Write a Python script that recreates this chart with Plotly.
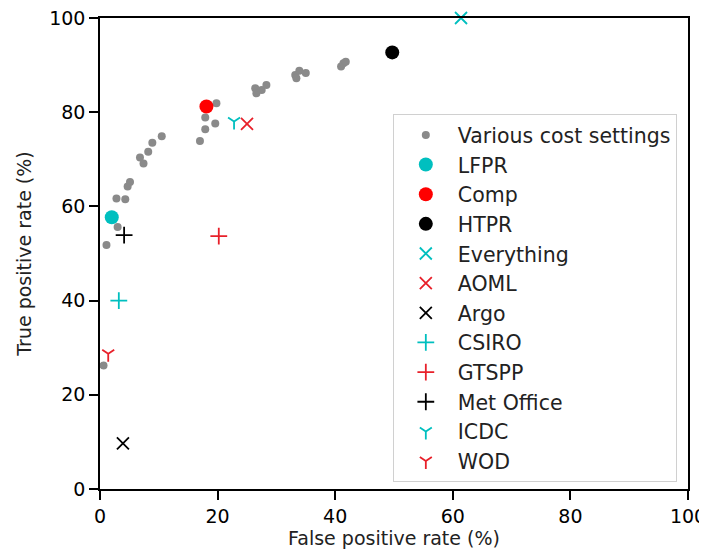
import plotly.graph_objects as go

# Various cost settings (grey points)
gray_x = [0.6, 1.1, 3.0, 2.8, 4.3, 4.7, 5.1, 6.8, 7.4, 8.2, 8.9, 10.5, 17.0, 17.9, 17.9, 19.6,
          19.8, 26.4, 26.6, 27.5, 28.3, 33.2, 33.4, 33.9, 35.0, 41.0, 41.4, 41.8]
gray_y = [26.2, 51.8, 55.6, 61.7, 61.5, 64.2, 65.2, 70.4, 69.1, 71.6, 73.5, 74.9, 73.9, 76.4, 78.9, 77.6,
          81.9, 85.1, 84.0, 84.7, 85.8, 87.9, 87.2, 88.8, 88.3, 89.7, 90.4, 90.7]

# Named configurations: (name, fpr, tpr)
names = ["LFPR", "Comp", "HTPR", "Everything", "AOML", "Argo", "CSIRO", "GTSPP", "Met Office", "ICDC", "WOD"]
fpr = [2.0, 18.1, 49.7, 61.4, 25.0, 3.9, 3.2, 20.2, 4.1, 22.8, 1.4]
tpr = [57.7, 81.2, 92.7, 100.0, 77.5, 9.7, 40.0, 53.7, 53.9, 78.0, 28.7]
colors = ["#00BFBF", "#FF0000", "#000000", "#00BFBF", "#E8202A", "#000000", "#00BFBF", "#E8202A", "#000000", "#00BFBF", "#E8202A"]
symbols = ["circle", "circle", "circle", "x-thin", "x-thin", "x-thin", "cross-thin", "cross-thin", "cross-thin", "y-down", "y-down"]

x_ticks = [0, 20, 40, 60, 80, 100]
y_ticks = [0, 20, 40, 60, 80, 100]

fig = go.Figure()
fig.add_trace(go.Scatter(x=gray_x, y=gray_y, mode="markers", name="Various cost settings",
                         marker=dict(color="#8a8a8a", size=8, line=dict(width=0))))
for n, xv, yv, c, s in zip(names, fpr, tpr, colors, symbols):
    if s == "circle":
        mk = dict(color=c, size=14, symbol=s, line=dict(width=0))
    elif s == "y-down":
        mk = dict(color=c, size=10, symbol=s, line=dict(color=c, width=1.8))
    else:
        mk = dict(color=c, size=12, symbol=s, line=dict(color=c, width=1.8))
    fig.add_trace(go.Scatter(x=[xv], y=[yv], mode="markers", name=n, marker=mk, cliponaxis=False))

axis_common = dict(showgrid=False, zeroline=False, showline=True, linecolor="black", linewidth=1.5,
                   mirror=True, ticks="outside", ticklen=9, tickwidth=1.5, tickcolor="black",
                   automargin=False, ticklabeloverflow="allow",
                   tickfont=dict(size=19, color="black", family="DejaVu Sans"))
fig.update_xaxes(range=[0, 100], tickvals=x_ticks, ticktext=[str(v) for v in x_ticks],
                 title=dict(text="False positive rate (%)", font=dict(size=19, color="#222", family="DejaVu Sans"), standoff=6),
                 **axis_common)
fig.update_yaxes(range=[0, 100], tickvals=y_ticks, ticktext=[str(v) for v in y_ticks],
                 title=dict(text="True positive rate (%)", font=dict(size=19, color="#222", family="DejaVu Sans"), standoff=13),
                 **axis_common)

# page body adds an 8px offset, compensated in the margins
fig.update_layout(
    width=707, height=551,
    margin=dict(l=92, r=27, t=10, b=70),
    plot_bgcolor="white", paper_bgcolor="white",
    font=dict(family="DejaVu Sans", size=19, color="black"),
    legend=dict(x=0.498, y=0.796, xanchor="left", yanchor="top",
                bgcolor="rgba(255,255,255,0.9)", bordercolor="#d0d0d0", borderwidth=1,
                font=dict(size=20.5, family="DejaVu Sans", color="#222"), itemwidth=54),
)

fig.write_html("out.html")
